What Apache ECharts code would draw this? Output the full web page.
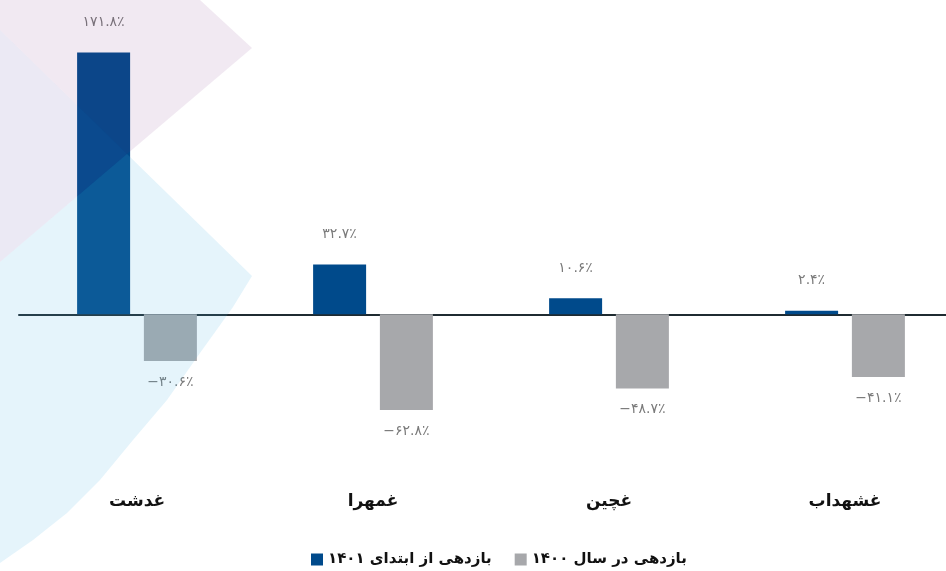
<!DOCTYPE html>
<html>
<head>
<meta charset="utf-8">
<script src="https://cdn.jsdelivr.net/npm/echarts@6/dist/echarts.min.js"></script>
<style>
  html, body { margin: 0; padding: 0; background: #fff; }
  #chart { width: 946px; height: 571px; }
</style>
</head>
<body>
<div id="chart"></div>
<script>
const categories = ['غدشت', 'غمهرا', 'غچین', 'غشهداب']
const seriesNames = ['بازدهی از ابتدای ۱۴۰۱', 'بازدهی در سال ۱۴۰۰']
const return1401 = [171.8, 32.7, 10.6, 2.4]
const return1400 = [-30.6, -62.8, -48.7, -41.1]

const persianDigits = '۰۱۲۳۴۵۶۷۸۹'
function toPersian(v) {
  const s = Math.abs(v).toFixed(1).replace(/[0-9]/g, d => persianDigits[+d])
  return (v < 0 ? '−' : '') + s + '٪'
}

const chart = echarts.init(document.getElementById('chart'))

const valueLabel = {
  show: true,
  color: '#7a7a7a',
  fontSize: 14,
  fontFamily: 'DejaVu Sans',
  formatter: p => toPersian(p.value)
}

chart.setOption({
  animation: false,
  backgroundColor: '#ffffff',
  grid: { left: 19, top: 40, width: 944, height: 442, outerBoundsMode: 'none' },
  legend: {
    left: 306,
    top: 547,
    itemWidth: 12,
    itemHeight: 12,
    itemGap: 23,
    icon: 'rect',
    textStyle: { fontSize: 15, fontWeight: 'bold', color: '#111', fontFamily: 'DejaVu Sans' },
    data: seriesNames
  },
  xAxis: [{
    type: 'category',
    data: categories,
    position: 'top',
    axisLine: { onZero: true, lineStyle: { color: '#1f2b31', width: 2 } },
    axisTick: { show: false },
    axisLabel: { show: false }
  }, {
    type: 'category',
    data: categories,
    position: 'bottom',
    axisLine: { show: false, onZero: false },
    axisTick: { show: false },
    axisLabel: { margin: 11, fontSize: 17, fontWeight: 'bold', color: '#111', fontFamily: 'DejaVu Sans' }
  }],
  yAxis: {
    type: 'value',
    min: -110,
    max: 180,
    show: false,
    splitLine: { show: false }
  },
  series: [{
    name: seriesNames[0],
    type: 'bar',
    barWidth: 53,
    barGap: '26%',
    itemStyle: { color: '#004a8b' },
    label: Object.assign({ position: 'top', distance: 23 }, valueLabel),
    data: return1401
  }, {
    name: seriesNames[1],
    type: 'bar',
    barWidth: 53,
    itemStyle: { color: '#a7a8ab' },
    label: Object.assign({ position: 'bottom', distance: 14 }, valueLabel),
    data: return1400
  }],
  // decorative shapes in the top-left corner, drawn over the bars
  graphic: [{
    type: 'polygon',
    z: 50,
    silent: true,
    shape: { points: [[0, 0], [200, 0], [252, 48], [127, 154], [0, 30]] },
    style: { fill: 'rgba(115,40,125,0.10)' }
  }, {
    type: 'polygon',
    z: 50,
    silent: true,
    shape: { points: [[0, 30], [127, 154], [0, 262]] },
    style: { fill: 'rgba(88,72,163,0.12)' }
  }, {
    type: 'polygon',
    z: 50,
    silent: true,
    shape: {
      points: [[0, 262], [127, 154], [252, 276], [233, 307], [200, 353], [167, 400],
        [133, 440], [100, 480], [67, 513], [33, 540], [0, 563]]
    },
    style: { fill: 'rgba(80,180,228,0.15)' }
  }]
})
</script>
</body>
</html>
